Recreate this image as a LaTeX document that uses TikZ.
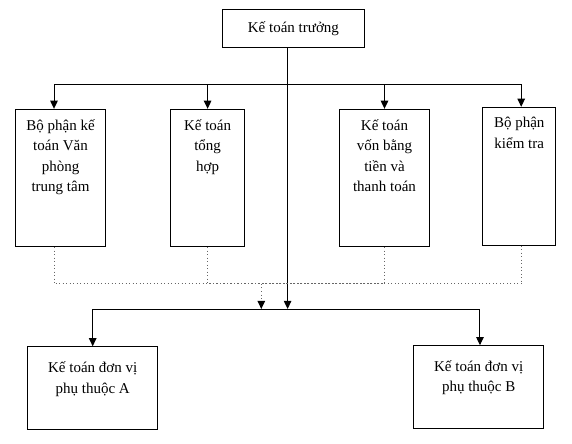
\documentclass[tikz,border=0pt]{standalone}
\usepackage{fontspec}
\setmainfont{Liberation Serif}
\usetikzlibrary{arrows.meta}
\tikzstyle{unitbox} = [draw, line width=0.8pt, inner sep=0pt]
\tikzstyle{boxtext} = [anchor=north, align=center, inner sep=0pt, yshift=-8.3pt, font=\fontsize{12}{16.4}\selectfont, execute at begin node=\strut]
\tikzstyle{arrow} = [line width=0.8pt, -{Triangle[width=6pt,length=6.5pt]}]
\tikzstyle{dotline} = [line width=0.8pt, dotted, black!60]

\begin{document}
\begin{tikzpicture}[x=0.8pt, y=-0.8pt]
	\useasboundingbox (0,0) rectangle (572,444);
	% chief accountant
	\node[unitbox, minimum width=113.3pt, minimum height=30.4pt, font=\fontsize{12}{16.4}\selectfont] (ktt) at (293.4,28.3) {Kế toán trưởng};
	% departments
	\node[unitbox, minimum width=72.4pt, minimum height=109.9pt] (bp1) at (60.5,178) {};
	\node[unitbox, minimum width=59pt, minimum height=109.9pt] (bp2) at (207.6,178) {};
	\node[unitbox, minimum width=72.2pt, minimum height=109.9pt] (bp3) at (384.5,178) {};
	\node[unitbox, minimum width=58.6pt, minimum height=110.2pt] (bp4) at (519.2,176.2) {};
	\node[boxtext] (bp1t) at (bp1.north) {Bộ phận kế\\toán Văn\\phòng\\trung tâm};
	\node[boxtext] (bp2t) at (bp2.north) {Kế toán\\tổng\\hợp};
	\node[boxtext] (bp3t) at (bp3.north) {Kế toán\\vốn bằng\\tiền và\\thanh toán};
	\node[boxtext] (bp4t) at (bp4.north) {Bộ phận\\kiểm tra};
	% dependent units
	\node[unitbox, minimum width=104pt, minimum height=65.8pt] (dvA) at (92.7,387.9) {};
	\node[unitbox, minimum width=104.2pt, minimum height=66.1pt] (dvB) at (478.7,387) {};
	\node[boxtext, yshift=-3.8pt] (dvAt) at (dvA.north) {Kế toán đơn vị\\phụ thuộc A};
	\node[boxtext, yshift=-3.8pt] (dvBt) at (dvB.north) {Kế toán đơn vị\\phụ thuộc B};
	% junctions
	\coordinate (hubT) at (287.6,85);
	\coordinate (hubB) at (287.6,309);
	\coordinate (dotT) at (261.3,284);
	% solid connectors
	\draw[line width=0.8pt] (ktt.south -| hubT) -- (hubT);
	\draw[arrow] (hubT) -- (hubB);
	\draw[arrow] (hubT) -| ([xshift=-5.2pt]bp1.north);
	\draw[arrow] (hubT) -| (bp2.north);
	\draw[arrow] (hubT) -| (bp3.north);
	\draw[arrow] (hubT) -| ([xshift=1.6pt]bp4.north);
	\draw[arrow] (hubB) -| (dvA.north);
	\draw[arrow] (hubB) -| ([xshift=1pt]dvB.north);
	% dotted connectors
	\draw[dotline] ([xshift=-5.2pt]bp1.south) |- (dotT);
	\draw[dotline] (bp2.south) |- (dotT);
	\draw[dotline] (bp3.south) |- (dotT);
	\draw[dotline] ([xshift=2pt]bp4.south) |- (dotT);
	\draw[dotline, -{Triangle[width=6pt,length=6.5pt,color=black]}] (dotT) -- (dotT |- hubB);
\end{tikzpicture}
\end{document}
